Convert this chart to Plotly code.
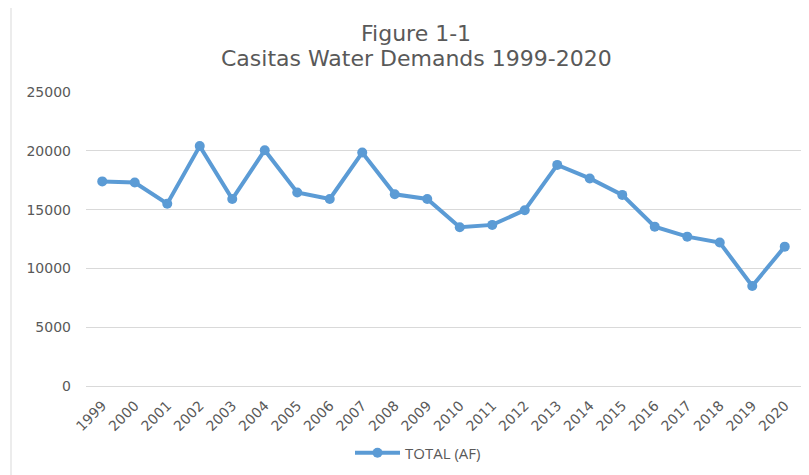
import plotly.graph_objects as go

years = [str(y) for y in range(1999, 2021)]
total_af = [17400, 17300, 15500, 20400, 15900, 20050, 16450, 15900, 19850, 16300,
            15900, 13500, 13700, 14950, 18800, 17650, 16250, 13550, 12700, 12200,
            8500, 11850]
y_ticks = [0, 5000, 10000, 15000, 20000, 25000]
title_lines = ["Figure 1-1", "Casitas Water Demands 1999-2020"]

# page has an 8px body margin; work in page pixels and convert
OFF = 8
W, H = 809 - OFF, 475 - OFF
L, T = 86 - OFF, 92 - OFF
pw, ph = 715, 294
R, B = W - L - pw, H - T - ph


def px_x(page_x):
    return (page_x - 86) / pw


def px_y(page_y):
    return (386 - page_y) / ph


fig = go.Figure()
fig.add_trace(go.Scatter(
    x=years, y=total_af, mode="lines+markers", name="TOTAL (AF)",
    line=dict(color="#5B9BD5", width=4),
    marker=dict(color="#5B9BD5", size=10),
))

annotations = []
for text, yy in zip(title_lines, [33, 59]):
    annotations.append(dict(
        text=text, xref="paper", yref="paper", x=px_x(416), y=px_y(yy),
        xanchor="center", yanchor="middle", showarrow=False,
        font=dict(family="DejaVu Sans", size=22, color="#595959"),
    ))

fig.update_layout(
    width=W, height=H,
    margin=dict(l=L, r=R, t=T, b=B, autoexpand=False),
    paper_bgcolor="white", plot_bgcolor="white",
    font=dict(family="DejaVu Sans", color="#595959", size=14),
    annotations=annotations,
    xaxis=dict(
        type="category", range=[-0.5, 21.5], showgrid=False,
        showline=True, linecolor="#D9D9D9", linewidth=1,
        tickangle=-45, ticks="", ticklabelstandoff=5,
        tickfont=dict(size=14), automargin=False,
    ),
    yaxis=dict(
        range=[0, 25000], tickvals=y_ticks, ticktext=[str(v) for v in y_ticks],
        showgrid=True, gridcolor="#D9D9D9", gridwidth=1,
        zeroline=False, showline=False, ticks="", ticklabelstandoff=14,
        tickfont=dict(size=14), automargin=False,
    ),
    showlegend=True,
    legend=dict(
        orientation="h", x=px_x(418), xanchor="center",
        y=px_y(453), yanchor="middle", itemwidth=45,
        font=dict(family="Open Sans", size=15, color="#595959"),
    ),
    shapes=[dict(
        type="line", xref="paper", yref="paper",
        x0=px_x(11), x1=px_x(11),
        y0=px_y(475), y1=px_y(0),
        line=dict(color="#D9D9D9", width=1),
    )],
)

fig.write_html("out.html")
